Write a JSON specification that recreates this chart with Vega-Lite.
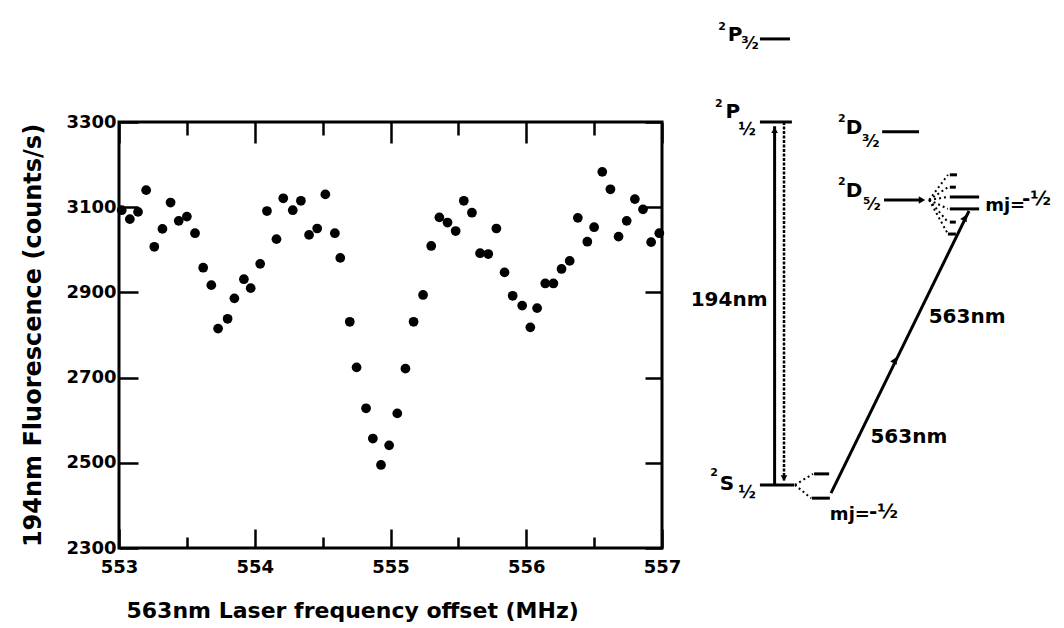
{
  "$schema": "https://vega.github.io/schema/vega-lite/v6.json",
  "background": "white",
  "padding": {"left": 20, "top": 21, "right": 0, "bottom": 0},
  "spacing": 7,
  "config": {
    "view": {"stroke": "black", "strokeWidth": 3},
    "axis": {
      "grid": false, "domain": false,
      "labelFont": "DejaVu Sans", "labelFontWeight": "bold", "labelFontSize": 18, "labelColor": "black",
      "titleFont": "DejaVu Sans", "titleFontWeight": "bold", "titleFontSize": 22, "titleColor": "black",
      "tickColor": "black", "tickWidth": 2.5
    },
    "text": {"font": "DejaVu Sans", "fontWeight": "bold", "color": "black"}
  },
  "datasets": {
    "fluor": [
      {"freq": 553.02, "counts": 3093}, {"freq": 553.08, "counts": 3072}, {"freq": 553.14, "counts": 3089},
      {"freq": 553.20, "counts": 3140}, {"freq": 553.26, "counts": 3007}, {"freq": 553.32, "counts": 3049},
      {"freq": 553.38, "counts": 3111}, {"freq": 553.44, "counts": 3068}, {"freq": 553.50, "counts": 3078},
      {"freq": 553.56, "counts": 3039}, {"freq": 553.62, "counts": 2958}, {"freq": 553.68, "counts": 2917},
      {"freq": 553.73, "counts": 2815}, {"freq": 553.80, "counts": 2838}, {"freq": 553.85, "counts": 2886},
      {"freq": 553.92, "counts": 2931}, {"freq": 553.97, "counts": 2910}, {"freq": 554.04, "counts": 2967},
      {"freq": 554.09, "counts": 3091}, {"freq": 554.16, "counts": 3025}, {"freq": 554.21, "counts": 3121},
      {"freq": 554.28, "counts": 3093}, {"freq": 554.34, "counts": 3115}, {"freq": 554.40, "counts": 3035},
      {"freq": 554.46, "counts": 3050}, {"freq": 554.52, "counts": 3130}, {"freq": 554.59, "counts": 3039},
      {"freq": 554.63, "counts": 2981}, {"freq": 554.70, "counts": 2831}, {"freq": 554.75, "counts": 2724},
      {"freq": 554.82, "counts": 2628}, {"freq": 554.87, "counts": 2557}, {"freq": 554.93, "counts": 2495},
      {"freq": 554.99, "counts": 2541}, {"freq": 555.05, "counts": 2616}, {"freq": 555.11, "counts": 2721},
      {"freq": 555.17, "counts": 2831}, {"freq": 555.24, "counts": 2894}, {"freq": 555.30, "counts": 3009},
      {"freq": 555.36, "counts": 3076}, {"freq": 555.42, "counts": 3064}, {"freq": 555.48, "counts": 3044},
      {"freq": 555.54, "counts": 3115}, {"freq": 555.60, "counts": 3087}, {"freq": 555.66, "counts": 2992},
      {"freq": 555.72, "counts": 2990}, {"freq": 555.78, "counts": 3050}, {"freq": 555.84, "counts": 2947},
      {"freq": 555.90, "counts": 2892}, {"freq": 555.97, "counts": 2869}, {"freq": 556.03, "counts": 2818},
      {"freq": 556.08, "counts": 2863}, {"freq": 556.14, "counts": 2921}, {"freq": 556.20, "counts": 2921},
      {"freq": 556.26, "counts": 2955}, {"freq": 556.32, "counts": 2974}, {"freq": 556.38, "counts": 3075},
      {"freq": 556.45, "counts": 3019}, {"freq": 556.50, "counts": 3053}, {"freq": 556.56, "counts": 3183},
      {"freq": 556.62, "counts": 3142}, {"freq": 556.68, "counts": 3031}, {"freq": 556.74, "counts": 3068},
      {"freq": 556.80, "counts": 3119}, {"freq": 556.86, "counts": 3095}, {"freq": 556.92, "counts": 3018},
      {"freq": 556.98, "counts": 3039}
    ],
    "levels": [
      {"name": "P3/2", "x": 18.6, "x2": 26.6, "y": 119.5},
      {"name": "P1/2", "x": 18.6, "x2": 27.1, "y": 100},
      {"name": "D3/2", "x": 51.1, "x2": 60.9, "y": 97.7},
      {"name": "S1/2", "x": 18.6, "x2": 27.7, "y": 14.8},
      {"name": "D5/2", "x": 51.6, "x2": 61.5, "y": 81.7},
      {"name": "D5/2 m=+5/2", "x": 69.1, "x2": 71.0, "y": 87.6},
      {"name": "D5/2 m=+3/2", "x": 69.1, "x2": 70.7, "y": 84.7},
      {"name": "D5/2 m=+1/2", "x": 69.1, "x2": 76.9, "y": 82.4},
      {"name": "D5/2 m=-1/2", "x": 69.1, "x2": 76.9, "y": 79.6},
      {"name": "D5/2 m=-3/2", "x": 69.1, "x2": 70.7, "y": 76.5},
      {"name": "D5/2 m=-5/2", "x": 68.6, "x2": 70.7, "y": 73.7},
      {"name": "S1/2 m=+1/2", "x": 33.0, "x2": 37.0, "y": 17.4},
      {"name": "S1/2 m=-1/2", "x": 32.4, "x2": 37.2, "y": 11.7}
    ],
    "dotted": [
      {"x": 27.9, "y": 14.8, "x2": 32.7, "y2": 17.4},
      {"x": 27.9, "y": 14.8, "x2": 32.2, "y2": 11.7},
      {"x": 63.6, "y": 81.7, "x2": 68.6, "y2": 87.6},
      {"x": 63.6, "y": 81.7, "x2": 68.6, "y2": 84.7},
      {"x": 63.6, "y": 81.7, "x2": 68.6, "y2": 82.4},
      {"x": 63.6, "y": 81.7, "x2": 68.6, "y2": 79.6},
      {"x": 63.6, "y": 81.7, "x2": 68.6, "y2": 76.5},
      {"x": 63.6, "y": 81.7, "x2": 68.6, "y2": 73.7}
    ],
    "transitions": [
      {"name": "194nm absorption", "x": 22.5, "y": 14.8, "x2": 22.5, "y2": 99.0},
      {"name": "563nm", "x": 37.5, "y": 12.9, "x2": 74.2, "y2": 79.1}
    ],
    "emission": [
      {"name": "194nm emission", "x": 25.0, "y": 100, "x2": 25.0, "y2": 15.5}
    ],
    "heads": [
      {"dir": "up", "x": 22.5, "y": 98.1},
      {"dir": "down", "x": 25.0, "y": 16.4},
      {"dir": "right", "x": 61.7, "y": 81.7},
      {"dir": "diag", "x": 73.1, "y": 77.5},
      {"dir": "diag", "x": 54.5, "y": 44.1}
    ],
    "labels": [
      {"kind": "main", "x": 12.0, "y": 120.4, "text": "P"},
      {"kind": "main", "x": 11.4, "y": 102.3, "text": "P"},
      {"kind": "main", "x": 43.6, "y": 98.6, "text": "D"},
      {"kind": "main", "x": 43.6, "y": 83.8, "text": "D"},
      {"kind": "main", "x": 9.8, "y": 15.0, "text": "S"},
      {"kind": "main", "x": 10.4, "y": 58.2, "text": "194nm"},
      {"kind": "main", "x": 73.7, "y": 54.2, "text": "563nm"},
      {"kind": "main", "x": 58.2, "y": 26.1, "text": "563nm"},
      {"kind": "sup", "x": 8.5, "y": 122.3, "text": "2"},
      {"kind": "sup", "x": 7.7, "y": 104.2, "text": "2"},
      {"kind": "sup", "x": 40.4, "y": 100.7, "text": "2"},
      {"kind": "sup", "x": 40.4, "y": 85.9, "text": "2"},
      {"kind": "sup", "x": 6.4, "y": 17.6, "text": "2"},
      {"kind": "sub", "x": 16.0, "y": 118.3, "text": "³⁄₂"},
      {"kind": "sub", "x": 15.2, "y": 98.1, "text": "½"},
      {"kind": "sub", "x": 48.1, "y": 95.3, "text": "³⁄₂"},
      {"kind": "sub", "x": 48.4, "y": 80.5, "text": "⁵⁄₂"},
      {"kind": "sub", "x": 15.2, "y": 12.9, "text": "½"},
      {"kind": "mj", "x": 78.5, "y": 80.3, "text": "mj="},
      {"kind": "mj", "x": 37.2, "y": 7.7, "text": "mj="},
      {"kind": "mjval", "x": 88.3, "y": 81.9, "text": "-½"},
      {"kind": "mjval", "x": 47.6, "y": 8.5, "text": "-½"}
    ]
  },
  "hconcat": [
    {
      "width": 543,
      "height": 426,
      "data": {"name": "fluor"},
      "layer": [
        {
          "mark": {"type": "point", "filled": true, "color": "black", "size": 95, "opacity": 1},
          "encoding": {
            "x": {
              "field": "freq", "type": "quantitative",
              "scale": {"domain": [553, 557], "nice": false, "zero": false},
              "axis": {
                "orient": "bottom",
                "values": [553, 553.5, 554, 554.5, 555, 555.5, 556, 556.5, 557],
                "labelExpr": "datum.value % 1 === 0 ? format(datum.value, 'd') : ''",
                "labelFlush": false,
                "tickSize": {"condition": {"test": "datum.value % 1 !== 0", "value": -11}, "value": -19},
                "labelPadding": 29,
                "title": "563nm Laser frequency offset (MHz)",
                "titleX": 7, "titleAlign": "left", "titlePadding": 24
              }
            },
            "y": {
              "field": "counts", "type": "quantitative",
              "scale": {"domain": [2300, 3300], "nice": false, "zero": false},
              "axis": {
                "orient": "left",
                "values": [2300, 2500, 2700, 2900, 3100, 3300],
                "format": "d",
                "tickSize": -19,
                "labelPadding": 22,
                "title": "194nm Fluorescence (counts/s)",
                "titleFontSize": 24,
                "titlePadding": 20
              }
            }
          }
        },
        {
          "mark": {"type": "point", "opacity": 0},
          "encoding": {
            "x": {
              "field": "freq", "type": "quantitative",
              "scale": {"domain": [553, 557], "nice": false, "zero": false},
              "axis": {
                "orient": "top", "labels": false, "title": null,
                "values": [553, 553.5, 554, 554.5, 555, 555.5, 556, 556.5, 557],
                "tickSize": {"condition": {"test": "datum.value % 1 !== 0", "value": -13}, "value": -21}
              }
            },
            "y": {
              "field": "counts", "type": "quantitative",
              "scale": {"domain": [2300, 3300], "nice": false, "zero": false},
              "axis": {
                "orient": "right", "labels": false, "title": null,
                "values": [2300, 2500, 2700, 2900, 3100, 3300],
                "tickSize": -17
              }
            }
          }
        }
      ],
      "resolve": {"axis": {"x": "independent", "y": "independent"}}
    },
    {
      "width": 376,
      "height": 426,
      "view": {"stroke": null},
      "encoding": {
        "x": {"field": "x", "type": "quantitative", "scale": {"domain": [0, 100], "nice": false, "zero": false}, "axis": null},
        "y": {"field": "y", "type": "quantitative", "scale": {"domain": [0, 100], "nice": false, "zero": false}, "axis": null}
      },
      "layer": [
        {
          "data": {"name": "levels"},
          "mark": {"type": "rule", "color": "black", "strokeWidth": 3},
          "encoding": {"x2": {"field": "x2"}}
        },
        {
          "data": {"name": "dotted"},
          "mark": {"type": "rule", "color": "black", "strokeWidth": 2, "strokeDash": [2, 3]},
          "encoding": {"x2": {"field": "x2"}, "y2": {"field": "y2"}}
        },
        {
          "data": {"name": "transitions"},
          "mark": {"type": "rule", "color": "black", "strokeWidth": 3},
          "encoding": {"x2": {"field": "x2"}, "y2": {"field": "y2"}}
        },
        {
          "data": {"name": "emission"},
          "mark": {"type": "rule", "color": "black", "strokeWidth": 2.5, "strokeDash": [3, 1.5]},
          "encoding": {"x2": {"field": "x2"}, "y2": {"field": "y2"}}
        },
        {
          "data": {"name": "heads"},
          "transform": [{"filter": "datum.dir === 'up'"}],
          "mark": {"type": "point", "shape": "triangle-up", "filled": true, "color": "black", "size": 45, "opacity": 1},
          "encoding": {}
        },
        {
          "data": {"name": "heads"},
          "transform": [{"filter": "datum.dir === 'down'"}],
          "mark": {"type": "point", "shape": "triangle-down", "filled": true, "color": "black", "size": 45, "opacity": 1},
          "encoding": {}
        },
        {
          "data": {"name": "heads"},
          "transform": [{"filter": "datum.dir === 'right'"}],
          "mark": {"type": "point", "shape": "triangle-right", "filled": true, "color": "black", "size": 55, "opacity": 1},
          "encoding": {}
        },
        {
          "data": {"name": "heads"},
          "transform": [{"filter": "datum.dir === 'diag'"}],
          "mark": {"type": "point", "shape": "triangle-up", "angle": 26, "filled": true, "color": "black", "size": 55, "opacity": 1},
          "encoding": {}
        },
        {
          "data": {"name": "labels"},
          "transform": [{"filter": "datum.kind === 'main'"}],
          "mark": {"type": "text", "fontSize": 20, "align": "center", "baseline": "middle"},
          "encoding": {"text": {"field": "text"}}
        },
        {
          "data": {"name": "labels"},
          "transform": [{"filter": "datum.kind === 'sup'"}],
          "mark": {"type": "text", "fontSize": 11, "align": "center", "baseline": "middle"},
          "encoding": {"text": {"field": "text"}}
        },
        {
          "data": {"name": "labels"},
          "transform": [{"filter": "datum.kind === 'sub'"}],
          "mark": {"type": "text", "fontSize": 17, "align": "center", "baseline": "middle"},
          "encoding": {"text": {"field": "text"}}
        },
        {
          "data": {"name": "labels"},
          "transform": [{"filter": "datum.kind === 'mj'"}],
          "mark": {"type": "text", "fontSize": 18, "align": "left", "baseline": "middle"},
          "encoding": {"text": {"field": "text"}}
        },
        {
          "data": {"name": "labels"},
          "transform": [{"filter": "datum.kind === 'mjval'"}],
          "mark": {"type": "text", "fontSize": 20, "align": "left", "baseline": "middle"},
          "encoding": {"text": {"field": "text"}}
        }
      ]
    }
  ]
}
